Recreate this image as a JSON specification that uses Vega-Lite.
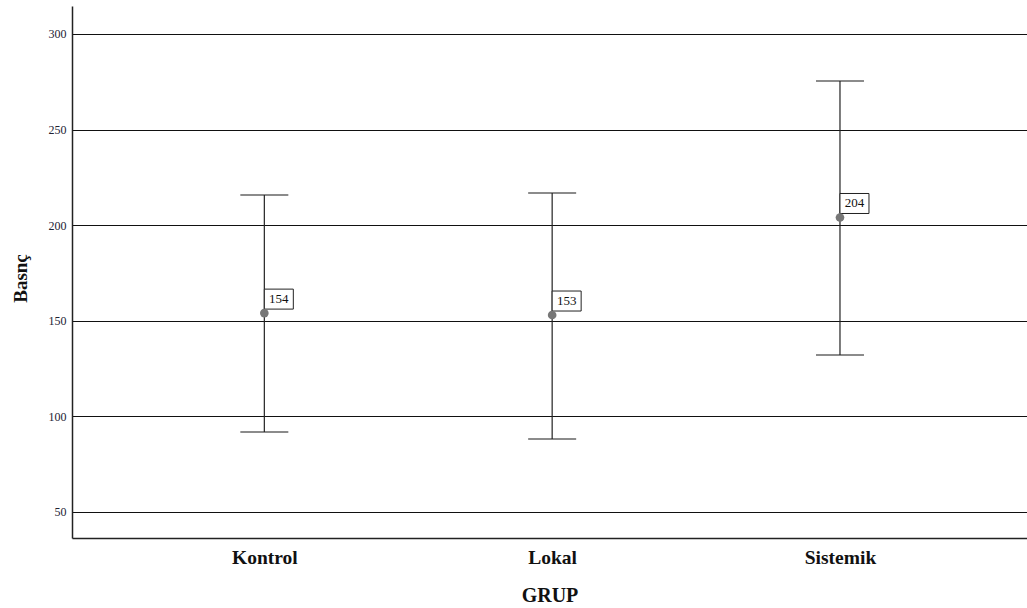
{
  "$schema": "https://vega.github.io/schema/vega-lite/v6.json",
  "width": 955,
  "height": 532,
  "autosize": "none",
  "padding": {"left": 72, "top": 6, "right": 0, "bottom": 70},
  "background": "white",
  "config": {
    "view": {"stroke": null},
    "font": "Liberation Serif"
  },
  "data": {
    "values": [
      {"GRUP": "Kontrol", "mean": 154, "lower": 91.8, "upper": 215.8},
      {"GRUP": "Lokal", "mean": 153, "lower": 88.2, "upper": 216.8},
      {"GRUP": "Sistemik", "mean": 204, "lower": 132.1, "upper": 275.4}
    ]
  },
  "encoding": {
    "x": {
      "field": "GRUP",
      "type": "nominal",
      "sort": ["Kontrol", "Lokal", "Sistemik"],
      "scale": {"type": "point", "padding": 0.659, "align": 0.507},
      "axis": {
        "title": "GRUP",
        "titleFont": "Liberation Serif",
        "titleFontSize": 20,
        "titleFontWeight": "bold",
        "titleColor": "#111",
        "titlePadding": 19,
        "labelFont": "Liberation Serif",
        "labelFontSize": 19.5,
        "labelFontWeight": "bold",
        "labelColor": "#111",
        "labelAngle": 0,
        "labelPadding": 10,
        "ticks": false,
        "grid": false,
        "domainColor": "#222",
        "domainWidth": 1.5
      }
    }
  },
  "layer": [
    {
      "mark": {"type": "rule", "color": "#222", "strokeWidth": 1.2},
      "encoding": {
        "y": {
          "field": "lower",
          "type": "quantitative",
          "scale": {"domain": [36.4, 314.6], "nice": false, "zero": false},
          "axis": {
            "title": "Basnç",
            "titleFont": "Liberation Serif",
            "titleFontSize": 19,
            "titleFontWeight": "bold",
            "titleColor": "#111",
            "titleAngle": -90,
            "titleAlign": "center",
            "titleBaseline": "alphabetic",
            "titleX": -46,
            "titleY": 272,
            "values": [50, 100, 150, 200, 250, 300],
            "labelFont": "Liberation Serif",
            "labelFontSize": 12,
            "labelColor": "#223",
            "labelPadding": 6,
            "ticks": false,
            "grid": true,
            "gridColor": "#111",
            "gridWidth": 1.2,
            "gridOpacity": 1,
            "domainColor": "#222",
            "domainWidth": 1.5
          }
        },
        "y2": {"field": "upper"}
      }
    },
    {
      "mark": {"type": "tick", "color": "#222", "size": 48, "thickness": 1.5, "orient": "horizontal"},
      "encoding": {"y": {"field": "upper", "type": "quantitative"}}
    },
    {
      "mark": {"type": "tick", "color": "#222", "size": 48, "thickness": 1.5, "orient": "horizontal"},
      "encoding": {"y": {"field": "lower", "type": "quantitative"}}
    },
    {
      "mark": {
        "type": "point",
        "shape": "M0,-1.6H1.933V-0.267H0Z",
        "size": 900,
        "filled": true,
        "fill": "white",
        "stroke": "#222",
        "strokeWidth": 1,
        "opacity": 1
      },
      "encoding": {"y": {"field": "mean", "type": "quantitative"}}
    },
    {
      "mark": {
        "type": "text",
        "align": "center",
        "baseline": "middle",
        "dx": 14.5,
        "dy": -14,
        "font": "Liberation Serif",
        "fontSize": 13,
        "color": "#111"
      },
      "encoding": {
        "y": {"field": "mean", "type": "quantitative"},
        "text": {"field": "mean", "type": "quantitative"}
      }
    },
    {
      "mark": {"type": "point", "filled": true, "color": "#777", "size": 75, "opacity": 1},
      "encoding": {"y": {"field": "mean", "type": "quantitative"}}
    }
  ]
}
